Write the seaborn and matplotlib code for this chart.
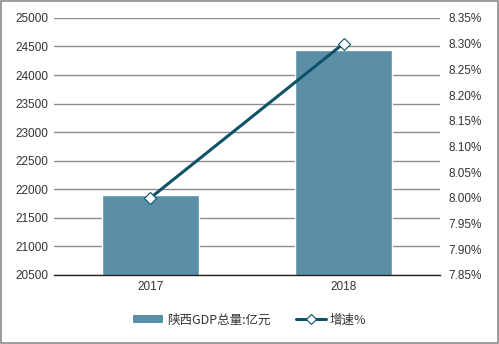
import matplotlib
matplotlib.use("Agg")
import matplotlib.pyplot as plt
import seaborn as sns
import pandas as pd
from matplotlib.patches import Patch, Rectangle
from matplotlib.lines import Line2D
from matplotlib.ticker import FuncFormatter

years = ["2017", "2018"]
gdp = [21898.81, 24438.32]
growth = [8.00, 8.30]
left_ticks = list(range(20500, 25001, 500))
right_ticks = [7.85, 7.90, 7.95, 8.00, 8.05, 8.10, 8.15, 8.20, 8.25, 8.30, 8.35]
bar_label = "陕西GDP总量:亿元"
line_label = "增速%"

sns.set_theme(style="white")
plt.rcParams['font.family'] = ['Liberation Sans', 'Noto Sans CJK SC', 'DejaVu Sans']

bar_color = "#5b8fa8"
line_color = "#0f5269"
grid_color = "#8c8c8c"
text_color = "#333333"

fig = plt.figure(figsize=(4.99, 3.44), dpi=100)
ax = fig.add_axes([0.108, 0.2006, 0.774, 0.7474])
df = pd.DataFrame({"year": years, "gdp": gdp})
sns.barplot(data=df, x="year", y="gdp", color=bar_color, width=0.5, ax=ax,
            saturation=1, zorder=2)
ax.set_ylim(20500, 25000)
ax.set_yticks(left_ticks)
ax.set_xlabel("")
ax.set_ylabel("")
ax.set_xlim(-0.5, 1.5)
for s in ["top", "right", "left"]:
    ax.spines[s].set_visible(False)
ax.spines["bottom"].set_color("#222222")
ax.spines["bottom"].set_linewidth(1.0)
ax.yaxis.grid(True, color=grid_color, linewidth=1.0, zorder=0)
ax.set_axisbelow(True)
ax.tick_params(axis="both", length=0, labelsize=8.5, colors=text_color, pad=4)

ax2 = ax.twinx()
ax2.plot(years, growth, color=line_color, linewidth=2.2, marker="D",
         markersize=6.5, markerfacecolor="white", markeredgecolor=line_color,
         markeredgewidth=0.8, zorder=3)
ax2.set_ylim(7.85, 8.35)
ax2.set_yticks(right_ticks)
ax2.yaxis.set_major_formatter(FuncFormatter(lambda v, p: f"{v:.2f}%"))
for s in ["top", "right", "left", "bottom"]:
    ax2.spines[s].set_visible(False)
ax2.tick_params(axis="y", length=0, labelsize=8.5, colors=text_color, pad=6)
ax2.grid(False)

handles = [Patch(facecolor=bar_color, edgecolor="none"),
           Line2D([0], [0], color=line_color, linewidth=2.2, marker="D",
                  markersize=5.5, markerfacecolor="white",
                  markeredgecolor=line_color, markeredgewidth=0.8)]
leg = fig.legend(handles, [bar_label, line_label], loc="center",
                 bbox_to_anchor=(0.5, 0.07), ncol=2, frameon=False,
                 fontsize=9, handlelength=2.4, handleheight=0.7,
                 columnspacing=2.0, handletextpad=0.3)
for t in leg.get_texts():
    t.set_color(text_color)
    t.set_family(['Noto Sans CJK SC', 'DejaVu Sans'])

fig.patches.append(Rectangle((0.002, 0.003), 0.995, 0.994, transform=fig.transFigure,
                             fill=False, edgecolor="#8a8a8a", linewidth=1.2))

fig.savefig("out.png", dpi=100, facecolor="white")
